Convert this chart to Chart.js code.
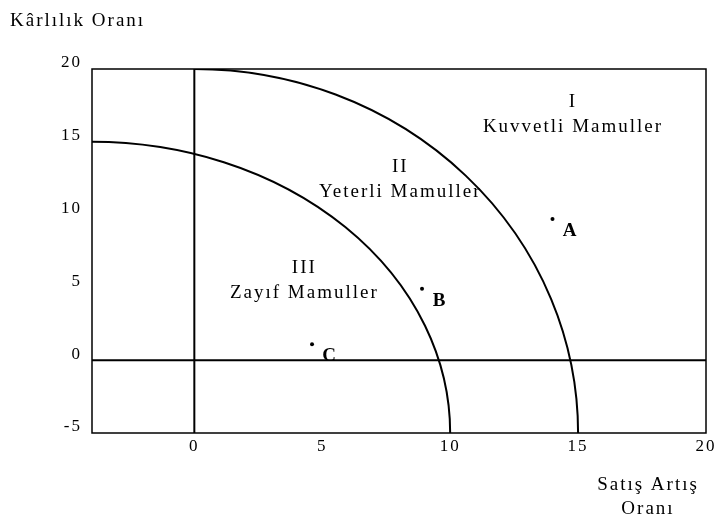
<!DOCTYPE html>
<html>
<head>
<meta charset="utf-8">
<script src="https://cdn.jsdelivr.net/npm/chart.js@4.4.1/dist/chart.umd.min.js"></script>
<style>
  html, body { margin: 0; padding: 0; background: #fff; }
  #wrap { width: 718px; height: 523px; }
</style>
</head>
<body>
<div id="wrap"><canvas id="chart" width="718" height="523"></canvas></div>
<script>
// ---- values ----
const xTicks = [0, 5, 10, 15, 20];
const yTicks = [-5, 0, 5, 10, 15, 20];
const xRange = [-4, 20];
const yRange = [-5, 20];

// quarter-ellipse boundaries: outer (I / II) and inner (II / III)
const arcCenterX = [0, -4];
const arcCenterY = [-5, -5];
const arcRadiusX = [15, 14];
const arcRadiusY = [25, 20];

const productNames = ['A', 'B', 'C'];
const productX = [14, 8.9, 4.6];
const productY = [9.7, 4.9, 1.1];

const regionNumerals = ['I', 'II', 'III'];
const regionNames = ['Kuvvetli Mamuller', 'Yeterli Mamuller', 'Zayıf Mamuller'];

const yTitle = 'Kârlılık Oranı';
const xTitle = ['Satış Artış', 'Oranı'];

// ---- layout (where the region captions sit, in axis units) ----
const regionAnchorX = [14.8, 8.05, 4.3];
const regionAnchorY = [16.9, 12.4, 5.45];

const FONT = "'Liberation Serif', 'Times New Roman', serif";

const diagram = {
  id: 'diagram',
  beforeDraw(chart){ chart.ctx.letterSpacing = '2px'; },
  afterDraw(chart){
    const { ctx, chartArea: a, scales: { x, y } } = chart;
    ctx.save();
    ctx.strokeStyle = '#000';
    ctx.fillStyle = '#000';

    // frame
    ctx.lineWidth = 1.5;
    ctx.strokeRect(a.left, a.top, a.right - a.left, a.bottom - a.top);

    // zero lines
    ctx.lineWidth = 2;
    const x0 = x.getPixelForValue(0), y0 = y.getPixelForValue(0);
    ctx.beginPath();
    ctx.moveTo(x0, a.top); ctx.lineTo(x0, a.bottom);
    ctx.moveTo(a.left, y0); ctx.lineTo(a.right, y0);
    ctx.stroke();

    // boundary arcs
    ctx.save();
    ctx.beginPath();
    ctx.rect(a.left, a.top, a.right - a.left, a.bottom - a.top);
    ctx.clip();
    arcCenterX.forEach((cx, i) => {
      const px = x.getPixelForValue(cx), py = y.getPixelForValue(arcCenterY[i]);
      const rx = x.getPixelForValue(cx + arcRadiusX[i]) - px;
      const ry = py - y.getPixelForValue(arcCenterY[i] + arcRadiusY[i]);
      ctx.beginPath();
      ctx.ellipse(px, py, rx, ry, 0, -Math.PI / 2, 0);
      ctx.stroke();
    });
    ctx.restore();

    // region captions
    ctx.letterSpacing = '2px';
    ctx.font = '19px ' + FONT;
    ctx.textAlign = 'center';
    ctx.textBaseline = 'middle';
    regionNumerals.forEach((n, i) => {
      const px = x.getPixelForValue(regionAnchorX[i]), py = y.getPixelForValue(regionAnchorY[i]);
      ctx.fillText(n, px, py - 12.5);
      ctx.fillText(regionNames[i], px, py + 12.5);
    });

    // product labels
    ctx.font = 'bold 19px ' + FONT;
    ctx.letterSpacing = '0px';
    chart.getDatasetMeta(0).data.forEach((pt, i) => {
      ctx.fillText(productNames[i], pt.x + 17, pt.y + 12);
    });

    // axis titles
    ctx.letterSpacing = '2px';
    ctx.font = '19px ' + FONT;
    ctx.textAlign = 'left';
    ctx.fillText(yTitle, 10, 21);
    ctx.textAlign = 'center';
    ctx.fillText(xTitle[0], 648, 485);
    ctx.fillText(xTitle[1], 648, 509);
    ctx.restore();
  }
};

new Chart(document.getElementById('chart'), {
  type: 'scatter',
  data: {
    datasets: [{
      data: productX.map((v, i) => ({ x: v, y: productY[i] })),
      backgroundColor: '#000',
      borderWidth: 0,
      pointRadius: 2,
      clip: false
    }]
  },
  options: {
    responsive: false,
    animation: false,
    devicePixelRatio: 1,
    layout: { padding: { top: 69, right: 12, left: 0, bottom: 0 } },
    plugins: { legend: { display: false }, tooltip: { enabled: false } },
    scales: {
      x: {
        type: 'linear', min: xRange[0], max: xRange[1],
        afterBuildTicks: s => { s.ticks = xTicks.map(v => ({ value: v })); },
        afterFit: s => { s.height = 90; },
        grid: { display: false, drawTicks: false },
        border: { display: false },
        ticks: { color: '#000', padding: 3, maxRotation: 0, font: { family: FONT, size: 17 } }
      },
      y: {
        type: 'linear', min: yRange[0], max: yRange[1],
        afterBuildTicks: s => { s.ticks = yTicks.map(v => ({ value: v })); },
        afterFit: s => { s.width = 92; },
        grid: { display: false, drawTicks: false },
        border: { display: false },
        ticks: { color: '#000', padding: 10, labelOffset: -6, font: { family: FONT, size: 17 } }
      }
    }
  },
  plugins: [diagram]
});
</script>
</body>
</html>
